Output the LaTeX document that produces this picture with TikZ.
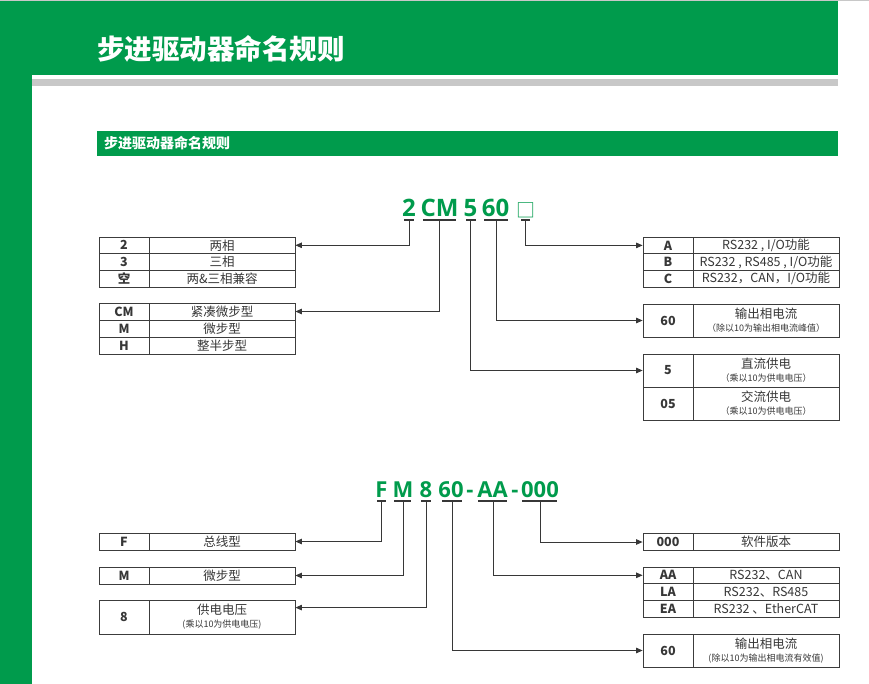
\documentclass[tikz,border=0pt]{standalone}
\usepackage{fontspec}
\setmainfont{Noto Sans CJK SC}
\newfontfamily\codefont{Open Sans}
\usetikzlibrary{arrows.meta,calc}
\definecolor{brand}{RGB}{0,155,76}
\definecolor{inkc}{RGB}{55,55,55}
\definecolor{rulec}{RGB}{200,200,200}
\definecolor{borderc}{RGB}{60,60,60}
\newcommand{\subt}[1]{{\fontsize{9}{10}\selectfont #1}}
\begin{document}
\begin{tikzpicture}[x=1pt,y=-1pt,
  keycell/.style={draw=borderc, line width=0.8pt, minimum width=50pt, minimum height=#1, inner sep=0pt, font=\fontsize{12.5}{14}\selectfont\bfseries, text=inkc},
  valcell/.style={draw=borderc, line width=0.8pt, minimum width=146pt, minimum height=#1, inner sep=0pt, align=center, font=\fontsize{12.5}{13}\selectfont, text=inkc},
  codetext/.style={anchor=base, inner sep=0pt, text=brand, font={\codefont\bfseries\fontsize{#1}{#1}\selectfont}},
  uline/.style={draw=inkc, line width=1.6pt},
  conn/.style={draw=inkc, line width=0.9pt, -{Triangle[length=6.5pt,width=5.5pt]}}
]
\useasboundingbox (0,0) rectangle (869,684);
\fill[white] (0,0) rectangle (869,684);
% header
\fill[brand] (0,0) rectangle (838,75);
\fill[brand] (0,0) rectangle (32,684);
\fill[rulec] (32,79) rectangle (838,86);
\draw[rulec, line width=1pt] (0,0.5) -- (869,0.5);
\node[anchor=base west, inner sep=0pt, text=white, font=\fontsize{27.5}{30}\selectfont\bfseries] (title) at (97,60) {步进驱动器命名规则};
\fill[brand] (97,131) rectangle (838,156);
\node[anchor=base west, inner sep=0pt, text=white, font=\fontsize{14}{16}\selectfont\bfseries] (subtitle) at (104,149) {步进驱动器命名规则};

% ===== upper code =====
\node[codetext=24] (c2) at (409,217) {2};
\node[codetext=24] (cCM) at (439.5,217) {CM};
\node[codetext=24] (c5) at (470.5,217) {5};
\node[codetext=24] (c60) at (495.5,217) {60};
\node[anchor=base, inner sep=0pt, text=brand, font=\fontsize{19}{19}\selectfont] (csq) at (525.5,217.5) {□};
\draw[uline] (404,220) -- (414,220);
\draw[uline] (423,220) -- (456,220);
\draw[uline] (466,220) -- (476,220);
\draw[uline] (484,220) -- (508,220);
\draw[uline] (521,220) -- (530,220);
\coordinate (u2) at (409,220);
\coordinate (uCM) at (439,220);
\coordinate (u5) at (470.5,220);
\coordinate (u60) at (496,220);
\coordinate (usq) at (525.5,220);

% upper left tables
\node[keycell=16.7pt] (k2) at (124,245.3) {2};
\node[valcell=16.7pt] (v2) at (222,245.3) {两相};
\node[keycell=16.7pt] (k3) at (124,262) {3};
\node[valcell=16.7pt] (v3) at (222,262) {三相};
\node[keycell=16.7pt] (kk) at (124,278.7) {空};
\node[valcell=16.7pt] (vk) at (222,278.7) {两\&三相兼容};

\node[keycell=17pt] (kCM) at (124,311.5) {CM};
\node[valcell=17pt] (vCM) at (222,311.5) {紧凑微步型};
\node[keycell=17pt] (kM) at (124,328.5) {M};
\node[valcell=17pt] (vM) at (222,328.5) {微步型};
\node[keycell=17pt] (kH) at (124,345.5) {H};
\node[valcell=17pt] (vH) at (222,345.5) {整半步型};

% upper right tables
\node[keycell=16.7pt] (kA) at (668,245.4) {A};
\node[valcell=16.7pt] (vA) at (766,245.4) {RS232 , I/O功能};
\node[keycell=16.7pt] (kB) at (668,262.1) {B};
\node[valcell=16.7pt] (vB) at (766,262.1) {RS232 , RS485 , I/O功能};
\node[keycell=16.7pt] (kC) at (668,278.8) {C};
\node[valcell=16.7pt] (vC) at (766,278.8) {RS232，CAN，I/O功能};

\node[keycell=33pt] (k60) at (668,320.5) {60};
\node[valcell=33pt] (v60) at (766,320.5) {输出相电流\\\subt{（除以10为输出相电流峰值）}};

\node[keycell=33pt] (k5) at (668,370.5) {5};
\node[valcell=33pt] (v5) at (766,370.5) {直流供电\\\subt{（乘以10为供电电压）}};
\node[keycell=33pt] (k05) at (668,403.5) {05};
\node[valcell=33pt] (v05) at (766,403.5) {交流供电\\\subt{（乘以10为供电电压）}};

% upper connectors
\draw[conn] (u2) |- (v2.east);
\draw[conn] (uCM) |- (vCM.east);
\draw[conn] (usq) |- (kA.west);
\draw[conn] (u60) |- (k60.west);
\draw[conn] (u5) |- (k5.west);

% ===== lower code =====
\node[codetext=22] (dF) at (381.5,497) {F};
\node[codetext=22] (dM) at (403,497) {M};
\node[codetext=22] (d8) at (426,497) {8};
\node[codetext=22] (d60) at (451,497) {60};
\node[codetext=22] (dh1) at (470,497) {-};
\node[codetext=22] (dAA) at (492.5,497) {AA};
\node[codetext=22] (dh2) at (515,497) {-};
\node[codetext=22] (d000) at (540,497) {000};
\draw[uline] (377,501) -- (386,501);
\draw[uline] (394,501) -- (411,501);
\draw[uline] (421,501) -- (431,501);
\draw[uline] (442,501) -- (462,501);
\draw[uline] (478,501) -- (507,501);
\draw[uline] (522,501) -- (557,501);
\coordinate (wF) at (381,501);
\coordinate (wM) at (403,501);
\coordinate (w8) at (426,501);
\coordinate (w60) at (452,501);
\coordinate (wAA) at (493,501);
\coordinate (w000) at (540,501);

% lower left tables
\node[keycell=17pt] (kF) at (124,541.5) {F};
\node[valcell=17pt] (vF) at (222,541.5) {总线型};
\node[keycell=17pt] (kM2) at (124,575.5) {M};
\node[valcell=17pt] (vM2) at (222,575.5) {微步型};
\node[keycell=34pt] (k8) at (124,617) {8};
\node[valcell=34pt] (v8) at (222,617) {供电电压\\\subt{(乘以10为供电电压)}};

% lower right tables
\node[keycell=17.5pt] (k000) at (668,542) {000};
\node[valcell=17.5pt] (v000) at (766,542) {软件版本};
\node[keycell=16.7pt] (kAA) at (668,575.3) {AA};
\node[valcell=16.7pt] (vAA) at (766,575.3) {RS232、CAN};
\node[keycell=16.7pt] (kLA) at (668,592) {LA};
\node[valcell=16.7pt] (vLA) at (766,592) {RS232、RS485};
\node[keycell=16.7pt] (kEA) at (668,608.7) {EA};
\node[valcell=16.7pt] (vEA) at (766,608.7) {RS232 、EtherCAT};
\node[keycell=33pt] (k60b) at (668,650.5) {60};
\node[valcell=33pt] (v60b) at (766,650.5) {输出相电流\\\subt{(除以10为输出相电流有效值)}};

% lower connectors
\draw[conn] (wF) |- (vF.east);
\draw[conn] (wM) |- (vM2.east);
\draw[conn] (w8) |- ($(v8.north east)+(0,8)$);
\draw[conn] (w000) |- (k000.west);
\draw[conn] (wAA) |- (kAA.west);
\draw[conn] (w60) |- (k60b.west);
\end{tikzpicture}
\end{document}
